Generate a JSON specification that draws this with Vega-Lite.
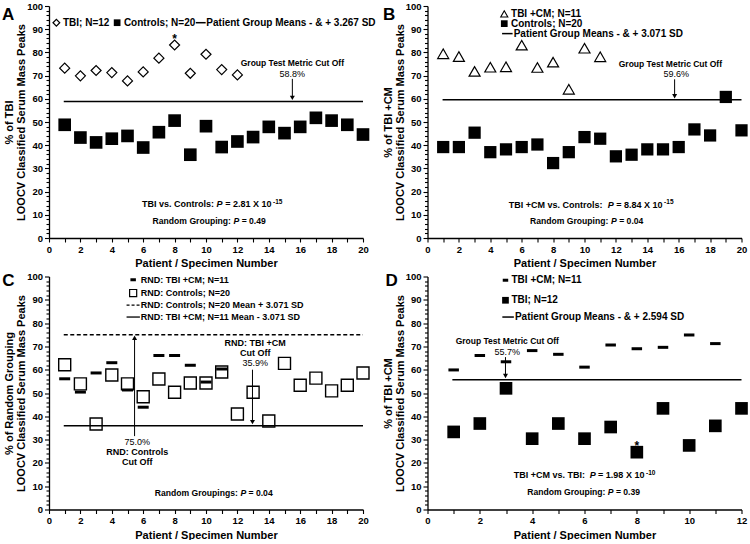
{
  "$schema": "https://vega.github.io/schema/vega-lite/v6.json",
  "padding": {"left": 2, "top": 1, "right": 0, "bottom": 0},
  "autosize": {"type": "pad"},
  "config": {
    "font": "Liberation Sans",
    "view": {"stroke": null},
    "mark": {"color": "black"},
    "text": {"font": "Liberation Sans", "fontWeight": "bold", "fontSize": 10, "baseline": "middle"},
    "axis": {
      "labelFont": "Liberation Sans", "labelFontWeight": "bold", "labelFontSize": 9.5, "labelColor": "black",
      "titleFont": "Liberation Sans", "titleFontWeight": "bold", "titleFontSize": 11, "titleColor": "black",
      "domainColor": "black", "domainWidth": 1.3, "tickColor": "black", "tickWidth": 1.1, "grid": false,
      "labelPadding": 2, "labelOverlap": false, "labelFlush": false
    }
  },
  "datasets": {
    "A": [
      {"patient": 1, "pct": 73.2, "group": "TBI"}, {"patient": 2, "pct": 69.9, "group": "TBI"}, {"patient": 3, "pct": 72.2, "group": "TBI"},
      {"patient": 4, "pct": 71.3, "group": "TBI"}, {"patient": 5, "pct": 67.7, "group": "TBI"}, {"patient": 6, "pct": 71.6, "group": "TBI"},
      {"patient": 7, "pct": 77.5, "group": "TBI"}, {"patient": 8, "pct": 83.2, "group": "TBI"}, {"patient": 9, "pct": 71.0, "group": "TBI"},
      {"patient": 10, "pct": 79.2, "group": "TBI"}, {"patient": 11, "pct": 72.6, "group": "TBI"}, {"patient": 12, "pct": 70.3, "group": "TBI"},
      {"patient": 1, "pct": 48.8, "group": "Controls"}, {"patient": 2, "pct": 43.3, "group": "Controls"}, {"patient": 3, "pct": 41.2, "group": "Controls"},
      {"patient": 4, "pct": 42.8, "group": "Controls"}, {"patient": 5, "pct": 44.0, "group": "Controls"}, {"patient": 6, "pct": 39.0, "group": "Controls"},
      {"patient": 7, "pct": 45.6, "group": "Controls"}, {"patient": 8, "pct": 50.6, "group": "Controls"}, {"patient": 9, "pct": 35.9, "group": "Controls"},
      {"patient": 10, "pct": 48.2, "group": "Controls"}, {"patient": 11, "pct": 39.2, "group": "Controls"}, {"patient": 12, "pct": 41.6, "group": "Controls"},
      {"patient": 13, "pct": 43.5, "group": "Controls"}, {"patient": 14, "pct": 47.9, "group": "Controls"}, {"patient": 15, "pct": 45.2, "group": "Controls"},
      {"patient": 16, "pct": 47.9, "group": "Controls"}, {"patient": 17, "pct": 51.8, "group": "Controls"}, {"patient": 18, "pct": 50.6, "group": "Controls"},
      {"patient": 19, "pct": 48.8, "group": "Controls"}, {"patient": 20, "pct": 44.6, "group": "Controls"}
    ],
    "B": [
      {"patient": 1, "pct": 79.4, "group": "TBI +CM"}, {"patient": 2, "pct": 78.2, "group": "TBI +CM"}, {"patient": 3, "pct": 71.8, "group": "TBI +CM"},
      {"patient": 4, "pct": 73.6, "group": "TBI +CM"}, {"patient": 5, "pct": 73.8, "group": "TBI +CM"}, {"patient": 6, "pct": 83.1, "group": "TBI +CM"},
      {"patient": 7, "pct": 73.5, "group": "TBI +CM"}, {"patient": 8, "pct": 75.8, "group": "TBI +CM"}, {"patient": 9, "pct": 64.1, "group": "TBI +CM"},
      {"patient": 10, "pct": 81.8, "group": "TBI +CM"}, {"patient": 11, "pct": 78.1, "group": "TBI +CM"},
      {"patient": 1, "pct": 39.2, "group": "Controls"}, {"patient": 2, "pct": 39.2, "group": "Controls"}, {"patient": 3, "pct": 45.4, "group": "Controls"},
      {"patient": 4, "pct": 37.0, "group": "Controls"}, {"patient": 5, "pct": 38.2, "group": "Controls"}, {"patient": 6, "pct": 39.2, "group": "Controls"},
      {"patient": 7, "pct": 40.3, "group": "Controls"}, {"patient": 8, "pct": 32.3, "group": "Controls"}, {"patient": 9, "pct": 37.0, "group": "Controls"},
      {"patient": 10, "pct": 43.5, "group": "Controls"}, {"patient": 11, "pct": 42.8, "group": "Controls"}, {"patient": 12, "pct": 35.2, "group": "Controls"},
      {"patient": 13, "pct": 35.9, "group": "Controls"}, {"patient": 14, "pct": 38.2, "group": "Controls"}, {"patient": 15, "pct": 38.2, "group": "Controls"},
      {"patient": 16, "pct": 39.2, "group": "Controls"}, {"patient": 17, "pct": 46.8, "group": "Controls"}, {"patient": 18, "pct": 44.2, "group": "Controls"},
      {"patient": 19, "pct": 60.8, "group": "Controls"}, {"patient": 20, "pct": 46.4, "group": "Controls"}
    ],
    "C": [
      {"patient": 1, "pct": 56.1, "group": "RND: TBI +CM"}, {"patient": 2, "pct": 50.4, "group": "RND: TBI +CM"}, {"patient": 3, "pct": 58.6, "group": "RND: TBI +CM"},
      {"patient": 4, "pct": 63.0, "group": "RND: TBI +CM"}, {"patient": 5, "pct": 51.3, "group": "RND: TBI +CM"}, {"patient": 6, "pct": 43.9, "group": "RND: TBI +CM"},
      {"patient": 7, "pct": 66.1, "group": "RND: TBI +CM"}, {"patient": 8, "pct": 66.1, "group": "RND: TBI +CM"}, {"patient": 9, "pct": 61.9, "group": "RND: TBI +CM"},
      {"patient": 10, "pct": 54.7, "group": "RND: TBI +CM"}, {"patient": 11, "pct": 60.3, "group": "RND: TBI +CM"},
      {"patient": 1, "pct": 62.1, "group": "RND: Controls"}, {"patient": 2, "pct": 53.9, "group": "RND: Controls"}, {"patient": 3, "pct": 36.7, "group": "RND: Controls"},
      {"patient": 4, "pct": 57.7, "group": "RND: Controls"}, {"patient": 5, "pct": 53.9, "group": "RND: Controls"}, {"patient": 6, "pct": 48.4, "group": "RND: Controls"},
      {"patient": 7, "pct": 56.0, "group": "RND: Controls"}, {"patient": 8, "pct": 50.3, "group": "RND: Controls"}, {"patient": 9, "pct": 54.3, "group": "RND: Controls"},
      {"patient": 10, "pct": 54.3, "group": "RND: Controls"}, {"patient": 11, "pct": 59.0, "group": "RND: Controls"}, {"patient": 12, "pct": 41.0, "group": "RND: Controls"},
      {"patient": 13, "pct": 50.3, "group": "RND: Controls"}, {"patient": 14, "pct": 38.0, "group": "RND: Controls"}, {"patient": 15, "pct": 62.7, "group": "RND: Controls"},
      {"patient": 16, "pct": 53.3, "group": "RND: Controls"}, {"patient": 17, "pct": 56.4, "group": "RND: Controls"}, {"patient": 18, "pct": 50.9, "group": "RND: Controls"},
      {"patient": 19, "pct": 53.3, "group": "RND: Controls"}, {"patient": 20, "pct": 58.6, "group": "RND: Controls"}
    ],
    "D": [
      {"patient": 1, "pct": 59.9, "group": "TBI +CM"}, {"patient": 2, "pct": 66.1, "group": "TBI +CM"}, {"patient": 3, "pct": 63.4, "group": "TBI +CM"},
      {"patient": 4, "pct": 68.2, "group": "TBI +CM"}, {"patient": 5, "pct": 66.6, "group": "TBI +CM"}, {"patient": 6, "pct": 61.1, "group": "TBI +CM"},
      {"patient": 7, "pct": 70.6, "group": "TBI +CM"}, {"patient": 8, "pct": 69.0, "group": "TBI +CM"}, {"patient": 9, "pct": 69.6, "group": "TBI +CM"},
      {"patient": 10, "pct": 74.9, "group": "TBI +CM"}, {"patient": 11, "pct": 71.2, "group": "TBI +CM"},
      {"patient": 1, "pct": 33.3, "group": "TBI"}, {"patient": 2, "pct": 36.9, "group": "TBI"}, {"patient": 3, "pct": 52.0, "group": "TBI"},
      {"patient": 4, "pct": 30.4, "group": "TBI"}, {"patient": 5, "pct": 36.9, "group": "TBI"}, {"patient": 6, "pct": 30.4, "group": "TBI"},
      {"patient": 7, "pct": 35.4, "group": "TBI"}, {"patient": 8, "pct": 24.6, "group": "TBI"}, {"patient": 9, "pct": 43.4, "group": "TBI"},
      {"patient": 10, "pct": 27.5, "group": "TBI"}, {"patient": 11, "pct": 35.9, "group": "TBI"}, {"patient": 12, "pct": 43.4, "group": "TBI"}
    ]
  },
  "bounds": "flush",
  "columns": 2,
  "spacing": {"row": 38.5, "column": 64.5},
  "concat": [
        {
          "width": 314, "height": 232,
          "data": {"values": [{}]},
          "resolve": {"axis": {"x": "independent", "y": "independent"}},
          "layer": [
            {
              "data": {"name": "A"},
              "transform": [{"filter": "datum.group === 'TBI'"}],
              "mark": {"type": "point", "shape": "diamond", "filled": false, "size": 100, "strokeWidth": 1.2, "opacity": 1, "color": "black"},
              "encoding": {
                "x": {"field": "patient", "type": "quantitative", "scale": {"domain": [0, 20], "nice": false},
                  "axis": {"title": "Patient / Specimen Number", "values": [0,1,2,3,4,5,6,7,8,9,10,11,12,13,14,15,16,17,18,19,20], "labelExpr": "datum.value % 2 === 0 ? datum.label : ''", "tickSize": 4}},
                "y": {"field": "pct", "type": "quantitative", "scale": {"domain": [0, 100], "nice": false},
                  "axis": {"title": ["% of TBI", "LOOCV Classified Serum Mass Peaks"], "titleLineHeight": 12, "titlePadding": 0,
                    "values": [0,2,4,6,8,10,12,14,16,18,20,22,24,26,28,30,32,34,36,38,40,42,44,46,48,50,52,54,56,58,60,62,64,66,68,70,72,74,76,78,80,82,84,86,88,90,92,94,96,98,100],
                    "labelExpr": "datum.value % 10 === 0 ? datum.label : ''",
                    "tickSize": {"condition": {"test": "datum.value % 10 === 0", "value": 4.5}, "value": 3}}}
              }
            },
            {
              "data": {"name": "A"},
              "transform": [{"filter": "datum.group === 'Controls'"}],
              "mark": {"type": "point", "shape": "square", "filled": true, "size": 160, "opacity": 1, "color": "black"},
              "encoding": {"x": {"field": "patient", "type": "quantitative", "axis": null}, "y": {"field": "pct", "type": "quantitative", "axis": null}}
            },
            {"mark": {"type": "rule", "strokeWidth": 1.5}, "encoding": {"x": {"datum": 0.94, "axis": null}, "x2": {"datum": 20}, "y": {"datum": 58.8, "axis": null}}},
            {"mark": {"type": "rule", "strokeWidth": 1}, "encoding": {"x": {"datum": 15.5, "axis": null}, "y": {"datum": 68.6, "axis": null}, "y2": {"datum": 60.4}}},
            {"mark": {"type": "point", "shape": "triangle-down", "filled": true, "size": 25, "opacity": 1}, "encoding": {"x": {"datum": 15.5, "axis": null}, "y": {"datum": 60.4, "axis": null}}},
            {"mark": {"type": "text", "text": "A", "align": "center", "fontSize": 17}, "encoding": {"x": {"datum": -2.6, "axis": null}, "y": {"datum": 96.3, "axis": null}}},
            {"mark": {"type": "point", "shape": "diamond", "filled": false, "size": 45, "strokeWidth": 1.2, "opacity": 1}, "encoding": {"x": {"datum": 0.47, "axis": null}, "y": {"datum": 92.8, "axis": null}}},
            {"mark": {"type": "text", "text": "TBI; N=12", "align": "left", "fontSize": 10}, "encoding": {"x": {"datum": 0.89, "axis": null}, "y": {"datum": 92.8, "axis": null}}},
            {"mark": {"type": "point", "shape": "square", "filled": true, "size": 45, "opacity": 1}, "encoding": {"x": {"datum": 4.34, "axis": null}, "y": {"datum": 92.8, "axis": null}}},
            {"mark": {"type": "text", "text": "Controls; N=20", "align": "left", "fontSize": 10}, "encoding": {"x": {"datum": 4.77, "axis": null}, "y": {"datum": 92.8, "axis": null}}},
            {"mark": {"type": "rule", "strokeWidth": 1.5}, "encoding": {"x": {"datum": 9.35, "axis": null}, "x2": {"datum": 9.98}, "y": {"datum": 92.8, "axis": null}}},
            {"mark": {"type": "text", "text": "Patient Group Means - & + 3.267 SD", "align": "left", "fontSize": 10}, "encoding": {"x": {"datum": 10.02, "axis": null}, "y": {"datum": 92.8, "axis": null}}},
            {"mark": {"type": "text", "text": "Group Test Metric Cut Off", "align": "center", "fontSize": 8.5}, "encoding": {"x": {"datum": 15.5, "axis": null}, "y": {"datum": 75.3, "axis": null}}},
            {"mark": {"type": "text", "text": "58.8%", "align": "center", "fontSize": 9, "fontWeight": "normal"}, "encoding": {"x": {"datum": 15.5, "axis": null}, "y": {"datum": 70.7, "axis": null}}},
            {"mark": {"type": "text", "text": "*", "align": "center", "fontSize": 12}, "encoding": {"x": {"datum": 8, "axis": null}, "y": {"datum": 85.7, "axis": null}}},
            {"mark": {"type": "text", "text": "TBI vs. Controls:", "align": "left", "fontSize": 9}, "encoding": {"x": {"datum": 5.93, "axis": null}, "y": {"datum": 14.5, "axis": null}}},
            {"mark": {"type": "text", "text": "P", "align": "left", "fontSize": 9, "fontStyle": "italic"}, "encoding": {"x": {"datum": 10.67, "axis": null}, "y": {"datum": 14.5, "axis": null}}},
            {"mark": {"type": "text", "text": "= 2.81 X 10", "align": "left", "fontSize": 9}, "encoding": {"x": {"datum": 11.22, "axis": null}, "y": {"datum": 14.5, "axis": null}}},
            {"mark": {"type": "text", "text": "-15", "align": "left", "fontSize": 6.5}, "encoding": {"x": {"datum": 14.27, "axis": null}, "y": {"datum": 15.7, "axis": null}}},
            {"mark": {"type": "text", "text": "Random Grouping:", "align": "left", "fontSize": 8.6}, "encoding": {"x": {"datum": 6.6, "axis": null}, "y": {"datum": 7.2, "axis": null}}},
            {"mark": {"type": "text", "text": "P", "align": "left", "fontSize": 8.6, "fontStyle": "italic"}, "encoding": {"x": {"datum": 11.75, "axis": null}, "y": {"datum": 7.2, "axis": null}}},
            {"mark": {"type": "text", "text": "= 0.49", "align": "left", "fontSize": 8.6}, "encoding": {"x": {"datum": 12.27, "axis": null}, "y": {"datum": 7.2, "axis": null}}}
          ]
        },
        {
          "width": 314, "height": 232,
          "data": {"values": [{}]},
          "resolve": {"axis": {"x": "independent", "y": "independent"}},
          "layer": [
            {
              "data": {"name": "B"},
              "transform": [{"filter": "datum.group === 'TBI +CM'"}],
              "mark": {"type": "point", "shape": "triangle-up", "filled": false, "size": 121, "strokeWidth": 1.2, "opacity": 1, "color": "black"},
              "encoding": {
                "x": {"field": "patient", "type": "quantitative", "scale": {"domain": [0, 20], "nice": false},
                  "axis": {"title": "Patient / Specimen Number", "values": [0,1,2,3,4,5,6,7,8,9,10,11,12,13,14,15,16,17,18,19,20], "labelExpr": "datum.value % 2 === 0 ? datum.label : ''", "tickSize": 4}},
                "y": {"field": "pct", "type": "quantitative", "scale": {"domain": [0, 100], "nice": false},
                  "axis": {"title": ["% of TBI +CM", "LOOCV Classified Serum Mass Peaks"], "titleLineHeight": 12, "titlePadding": 0,
                    "values": [0,2,4,6,8,10,12,14,16,18,20,22,24,26,28,30,32,34,36,38,40,42,44,46,48,50,52,54,56,58,60,62,64,66,68,70,72,74,76,78,80,82,84,86,88,90,92,94,96,98,100],
                    "labelExpr": "datum.value % 10 === 0 ? datum.label : ''",
                    "tickSize": {"condition": {"test": "datum.value % 10 === 0", "value": 4.5}, "value": 3}}}
              }
            },
            {
              "data": {"name": "B"},
              "transform": [{"filter": "datum.group === 'Controls'"}],
              "mark": {"type": "point", "shape": "square", "filled": true, "size": 150, "opacity": 1, "color": "black"},
              "encoding": {"x": {"field": "patient", "type": "quantitative", "axis": null}, "y": {"field": "pct", "type": "quantitative", "axis": null}}
            },
            {"mark": {"type": "rule", "strokeWidth": 1.5}, "encoding": {"x": {"datum": 0.96, "axis": null}, "x2": {"datum": 20}, "y": {"datum": 59.6, "axis": null}}},
            {"mark": {"type": "rule", "strokeWidth": 1}, "encoding": {"x": {"datum": 15.74, "axis": null}, "y": {"datum": 68.4, "axis": null}, "y2": {"datum": 61.1}}},
            {"mark": {"type": "point", "shape": "triangle-down", "filled": true, "size": 25, "opacity": 1}, "encoding": {"x": {"datum": 15.74, "axis": null}, "y": {"datum": 61.1, "axis": null}}},
            {"mark": {"type": "text", "text": "B", "align": "center", "fontSize": 17}, "encoding": {"x": {"datum": -2.44, "axis": null}, "y": {"datum": 96.3, "axis": null}}},
            {"mark": {"type": "point", "shape": "triangle-up", "filled": false, "size": 50, "strokeWidth": 1.1, "opacity": 1}, "encoding": {"x": {"datum": 4.89, "axis": null}, "y": {"datum": 96.6, "axis": null}}},
            {"mark": {"type": "text", "text": "TBI +CM; N=11", "align": "left", "fontSize": 10}, "encoding": {"x": {"datum": 5.32, "axis": null}, "y": {"datum": 96.6, "axis": null}}},
            {"mark": {"type": "point", "shape": "square", "filled": true, "size": 45, "opacity": 1}, "encoding": {"x": {"datum": 4.89, "axis": null}, "y": {"datum": 92.4, "axis": null}}},
            {"mark": {"type": "text", "text": "Controls; N=20", "align": "left", "fontSize": 10}, "encoding": {"x": {"datum": 5.32, "axis": null}, "y": {"datum": 92.4, "axis": null}}},
            {"mark": {"type": "rule", "strokeWidth": 1.5}, "encoding": {"x": {"datum": 4.75, "axis": null}, "x2": {"datum": 5.42}, "y": {"datum": 88.1, "axis": null}}},
            {"mark": {"type": "text", "text": "Patient Group Means - & + 3.071 SD", "align": "left", "fontSize": 10}, "encoding": {"x": {"datum": 5.49, "axis": null}, "y": {"datum": 88.1, "axis": null}}},
            {"mark": {"type": "text", "text": "Group Test Metric Cut Off", "align": "center", "fontSize": 8.5}, "encoding": {"x": {"datum": 15.47, "axis": null}, "y": {"datum": 75.2, "axis": null}}},
            {"mark": {"type": "text", "text": "59.6%", "align": "center", "fontSize": 9, "fontWeight": "normal"}, "encoding": {"x": {"datum": 15.85, "axis": null}, "y": {"datum": 70.6, "axis": null}}},
            {"mark": {"type": "text", "text": "TBI +CM vs. Controls:", "align": "left", "fontSize": 9}, "encoding": {"x": {"datum": 5.18, "axis": null}, "y": {"datum": 14.4, "axis": null}}},
            {"mark": {"type": "text", "text": "P", "align": "left", "fontSize": 9, "fontStyle": "italic"}, "encoding": {"x": {"datum": 11.48, "axis": null}, "y": {"datum": 14.4, "axis": null}}},
            {"mark": {"type": "text", "text": "= 8.84 X 10", "align": "left", "fontSize": 9}, "encoding": {"x": {"datum": 12.02, "axis": null}, "y": {"datum": 14.4, "axis": null}}},
            {"mark": {"type": "text", "text": "-15", "align": "left", "fontSize": 6.5}, "encoding": {"x": {"datum": 15.07, "axis": null}, "y": {"datum": 15.6, "axis": null}}},
            {"mark": {"type": "text", "text": "Random Grouping:", "align": "left", "fontSize": 8.6}, "encoding": {"x": {"datum": 6.53, "axis": null}, "y": {"datum": 7.2, "axis": null}}},
            {"mark": {"type": "text", "text": "P", "align": "left", "fontSize": 8.6, "fontStyle": "italic"}, "encoding": {"x": {"datum": 11.69, "axis": null}, "y": {"datum": 7.2, "axis": null}}},
            {"mark": {"type": "text", "text": "= 0.04", "align": "left", "fontSize": 8.6}, "encoding": {"x": {"datum": 12.21, "axis": null}, "y": {"datum": 7.2, "axis": null}}}
          ]
        },
        {
          "width": 314, "height": 233,
          "data": {"values": [{}]},
          "resolve": {"axis": {"x": "independent", "y": "independent"}},
          "layer": [
            {
              "data": {"name": "C"},
              "transform": [{"filter": "datum.group === 'RND: Controls'"}],
              "mark": {"type": "point", "shape": "square", "filled": false, "size": 144, "strokeWidth": 1.4, "opacity": 1, "color": "black"},
              "encoding": {
                "x": {"field": "patient", "type": "quantitative", "scale": {"domain": [0, 20], "nice": false},
                  "axis": {"title": "Patient / Specimen Number", "values": [0,1,2,3,4,5,6,7,8,9,10,11,12,13,14,15,16,17,18,19,20], "labelExpr": "datum.value % 2 === 0 ? datum.label : ''", "tickSize": 4}},
                "y": {"field": "pct", "type": "quantitative", "scale": {"domain": [0, 100], "nice": false},
                  "axis": {"title": ["% of Random Grouping", "LOOCV Classified Serum Mass Peaks"], "titleLineHeight": 12, "titlePadding": 0,
                    "values": [0,2,4,6,8,10,12,14,16,18,20,22,24,26,28,30,32,34,36,38,40,42,44,46,48,50,52,54,56,58,60,62,64,66,68,70,72,74,76,78,80,82,84,86,88,90,92,94,96,98,100],
                    "labelExpr": "datum.value % 10 === 0 ? datum.label : ''",
                    "tickSize": {"condition": {"test": "datum.value % 10 === 0", "value": 4.5}, "value": 3}}}
              }
            },
            {
              "data": {"name": "C"},
              "transform": [{"filter": "datum.group === 'RND: TBI +CM'"}],
              "mark": {"type": "point", "shape": "stroke", "filled": false, "size": 121, "strokeWidth": 3, "opacity": 1, "color": "black"},
              "encoding": {"x": {"field": "patient", "type": "quantitative", "axis": null}, "y": {"field": "pct", "type": "quantitative", "axis": null}}
            },
            {"mark": {"type": "rule", "strokeWidth": 1.3, "strokeDash": [4, 2.5]}, "encoding": {"x": {"datum": 0.94, "axis": null}, "x2": {"datum": 20}, "y": {"datum": 75.0, "axis": null}}},
            {"mark": {"type": "rule", "strokeWidth": 1.5}, "encoding": {"x": {"datum": 0.94, "axis": null}, "x2": {"datum": 20}, "y": {"datum": 35.9, "axis": null}}},
            {"mark": {"type": "rule", "strokeWidth": 1}, "encoding": {"x": {"datum": 5.45, "axis": null}, "y": {"datum": 31.5, "axis": null}, "y2": {"datum": 73.7}}},
            {"mark": {"type": "point", "shape": "triangle-up", "filled": true, "size": 25, "opacity": 1}, "encoding": {"x": {"datum": 5.45, "axis": null}, "y": {"datum": 73.7, "axis": null}}},
            {"mark": {"type": "rule", "strokeWidth": 1}, "encoding": {"x": {"datum": 12.96, "axis": null}, "y": {"datum": 60.0, "axis": null}, "y2": {"datum": 37.5}}},
            {"mark": {"type": "point", "shape": "triangle-down", "filled": true, "size": 25, "opacity": 1}, "encoding": {"x": {"datum": 12.96, "axis": null}, "y": {"datum": 37.5, "axis": null}}},
            {"mark": {"type": "text", "text": "C", "align": "center", "fontSize": 17}, "encoding": {"x": {"datum": -2.58, "axis": null}, "y": {"datum": 97.9, "axis": null}}},
            {"mark": {"type": "point", "shape": "stroke", "filled": false, "size": 30, "strokeWidth": 3, "opacity": 1}, "encoding": {"x": {"datum": 5.36, "axis": null}, "y": {"datum": 98.6, "axis": null}}},
            {"mark": {"type": "text", "text": "RND: TBI +CM; N=11", "align": "left", "fontSize": 9}, "encoding": {"x": {"datum": 5.85, "axis": null}, "y": {"datum": 98.6, "axis": null}}},
            {"mark": {"type": "point", "shape": "square", "filled": false, "size": 50, "strokeWidth": 1.2, "opacity": 1}, "encoding": {"x": {"datum": 5.36, "axis": null}, "y": {"datum": 92.9, "axis": null}}},
            {"mark": {"type": "text", "text": "RND: Controls; N=20", "align": "left", "fontSize": 9}, "encoding": {"x": {"datum": 5.85, "axis": null}, "y": {"datum": 92.9, "axis": null}}},
            {"mark": {"type": "rule", "strokeWidth": 1.3, "strokeDash": [3, 2]}, "encoding": {"x": {"datum": 4.94, "axis": null}, "x2": {"datum": 5.79}, "y": {"datum": 87.7, "axis": null}}},
            {"mark": {"type": "text", "text": "RND: Controls; N=20 Mean + 3.071 SD", "align": "left", "fontSize": 9}, "encoding": {"x": {"datum": 5.85, "axis": null}, "y": {"datum": 87.7, "axis": null}}},
            {"mark": {"type": "rule", "strokeWidth": 1.3}, "encoding": {"x": {"datum": 4.94, "axis": null}, "x2": {"datum": 5.79}, "y": {"datum": 82.6, "axis": null}}},
            {"mark": {"type": "text", "text": "RND: TBI +CM; N=11 Mean - 3.071 SD", "align": "left", "fontSize": 9}, "encoding": {"x": {"datum": 5.85, "axis": null}, "y": {"datum": 82.6, "axis": null}}},
            {"mark": {"type": "text", "text": "75.0%", "align": "center", "fontSize": 9, "fontWeight": "normal"}, "encoding": {"x": {"datum": 5.62, "axis": null}, "y": {"datum": 28.9, "axis": null}}},
            {"mark": {"type": "text", "text": "RND: Controls", "align": "center", "fontSize": 9}, "encoding": {"x": {"datum": 5.62, "axis": null}, "y": {"datum": 24.6, "axis": null}}},
            {"mark": {"type": "text", "text": "Cut Off", "align": "center", "fontSize": 9}, "encoding": {"x": {"datum": 5.62, "axis": null}, "y": {"datum": 20.3, "axis": null}}},
            {"mark": {"type": "text", "text": "RND: TBI +CM", "align": "center", "fontSize": 9}, "encoding": {"x": {"datum": 13.13, "axis": null}, "y": {"datum": 71.4, "axis": null}}},
            {"mark": {"type": "text", "text": "Cut Off", "align": "center", "fontSize": 9}, "encoding": {"x": {"datum": 13.13, "axis": null}, "y": {"datum": 67.1, "axis": null}}},
            {"mark": {"type": "text", "text": "35.9%", "align": "center", "fontSize": 9, "fontWeight": "normal"}, "encoding": {"x": {"datum": 13.13, "axis": null}, "y": {"datum": 62.9, "axis": null}}},
            {"mark": {"type": "text", "text": "Random Groupings:", "align": "left", "fontSize": 8.6}, "encoding": {"x": {"datum": 6.74, "axis": null}, "y": {"datum": 6.9, "axis": null}}},
            {"mark": {"type": "text", "text": "P", "align": "left", "fontSize": 8.6, "fontStyle": "italic"}, "encoding": {"x": {"datum": 12.19, "axis": null}, "y": {"datum": 6.9, "axis": null}}},
            {"mark": {"type": "text", "text": "= 0.04", "align": "left", "fontSize": 8.6}, "encoding": {"x": {"datum": 12.71, "axis": null}, "y": {"datum": 6.9, "axis": null}}}
          ]
        },
        {
          "width": 314, "height": 233,
          "data": {"values": [{}]},
          "resolve": {"axis": {"x": "independent", "y": "independent"}},
          "layer": [
            {
              "data": {"name": "D"},
              "transform": [{"filter": "datum.group === 'TBI'"}],
              "mark": {"type": "point", "shape": "square", "filled": true, "size": 160, "opacity": 1, "color": "black"},
              "encoding": {
                "x": {"field": "patient", "type": "quantitative", "scale": {"domain": [0, 12], "nice": false},
                  "axis": {"title": "Patient / Specimen Number", "values": [0,1,2,3,4,5,6,7,8,9,10,11,12], "labelExpr": "datum.value % 2 === 0 ? datum.label : ''", "tickSize": 4}},
                "y": {"field": "pct", "type": "quantitative", "scale": {"domain": [0, 100], "nice": false},
                  "axis": {"title": ["% of TBI +CM", "LOOCV Classified Serum Mass Peaks"], "titleLineHeight": 12, "titlePadding": 0,
                    "values": [0,2,4,6,8,10,12,14,16,18,20,22,24,26,28,30,32,34,36,38,40,42,44,46,48,50,52,54,56,58,60,62,64,66,68,70,72,74,76,78,80,82,84,86,88,90,92,94,96,98,100],
                    "labelExpr": "datum.value % 10 === 0 ? datum.label : ''",
                    "tickSize": {"condition": {"test": "datum.value % 10 === 0", "value": 4.5}, "value": 3}}}
              }
            },
            {
              "data": {"name": "D"},
              "transform": [{"filter": "datum.group === 'TBI +CM'"}],
              "mark": {"type": "point", "shape": "stroke", "filled": false, "size": 110, "strokeWidth": 3, "opacity": 1, "color": "black"},
              "encoding": {"x": {"field": "patient", "type": "quantitative", "axis": null}, "y": {"field": "pct", "type": "quantitative", "axis": null}}
            },
            {"mark": {"type": "rule", "strokeWidth": 1.5}, "encoding": {"x": {"datum": 0.95, "axis": null}, "x2": {"datum": 12}, "y": {"datum": 55.7, "axis": null}}},
            {"mark": {"type": "rule", "strokeWidth": 1}, "encoding": {"x": {"datum": 2.98, "axis": null}, "y": {"datum": 65.4, "axis": null}, "y2": {"datum": 57.3}}},
            {"mark": {"type": "point", "shape": "triangle-down", "filled": true, "size": 25, "opacity": 1}, "encoding": {"x": {"datum": 2.98, "axis": null}, "y": {"datum": 57.3, "axis": null}}},
            {"mark": {"type": "text", "text": "D", "align": "center", "fontSize": 17}, "encoding": {"x": {"datum": -1.37, "axis": null}, "y": {"datum": 98.1, "axis": null}}},
            {"mark": {"type": "point", "shape": "stroke", "filled": false, "size": 30, "strokeWidth": 3, "opacity": 1}, "encoding": {"x": {"datum": 2.98, "axis": null}, "y": {"datum": 98.4, "axis": null}}},
            {"mark": {"type": "text", "text": "TBI +CM; N=11", "align": "left", "fontSize": 10}, "encoding": {"x": {"datum": 3.21, "axis": null}, "y": {"datum": 98.4, "axis": null}}},
            {"mark": {"type": "point", "shape": "square", "filled": true, "size": 45, "opacity": 1}, "encoding": {"x": {"datum": 2.98, "axis": null}, "y": {"datum": 89.8, "axis": null}}},
            {"mark": {"type": "text", "text": "TBI; N=12", "align": "left", "fontSize": 10}, "encoding": {"x": {"datum": 3.21, "axis": null}, "y": {"datum": 89.8, "axis": null}}},
            {"mark": {"type": "rule", "strokeWidth": 1.5}, "encoding": {"x": {"datum": 2.86, "axis": null}, "x2": {"datum": 3.3}, "y": {"datum": 82.6, "axis": null}}},
            {"mark": {"type": "text", "text": "Patient Group Means - & + 2.594 SD", "align": "left", "fontSize": 10}, "encoding": {"x": {"datum": 3.34, "axis": null}, "y": {"datum": 82.6, "axis": null}}},
            {"mark": {"type": "text", "text": "Group Test Metric Cut Off", "align": "center", "fontSize": 8.5}, "encoding": {"x": {"datum": 3.05, "axis": null}, "y": {"datum": 72.2, "axis": null}}},
            {"mark": {"type": "text", "text": "55.7%", "align": "center", "fontSize": 9, "fontWeight": "normal"}, "encoding": {"x": {"datum": 3.05, "axis": null}, "y": {"datum": 67.7, "axis": null}}},
            {"mark": {"type": "text", "text": "*", "align": "center", "fontSize": 12}, "encoding": {"x": {"datum": 8, "axis": null}, "y": {"datum": 27.4, "axis": null}}},
            {"mark": {"type": "text", "text": "TBI +CM vs. TBI:", "align": "left", "fontSize": 9}, "encoding": {"x": {"datum": 3.3, "axis": null}, "y": {"datum": 14.6, "axis": null}}},
            {"mark": {"type": "text", "text": "P", "align": "left", "fontSize": 9, "fontStyle": "italic"}, "encoding": {"x": {"datum": 6.2, "axis": null}, "y": {"datum": 14.6, "axis": null}}},
            {"mark": {"type": "text", "text": "= 1.98 X 10", "align": "left", "fontSize": 9}, "encoding": {"x": {"datum": 6.52, "axis": null}, "y": {"datum": 14.6, "axis": null}}},
            {"mark": {"type": "text", "text": "-10", "align": "left", "fontSize": 6.5}, "encoding": {"x": {"datum": 8.35, "axis": null}, "y": {"datum": 15.8, "axis": null}}},
            {"mark": {"type": "text", "text": "Random Grouping:", "align": "left", "fontSize": 8.6}, "encoding": {"x": {"datum": 3.81, "axis": null}, "y": {"datum": 7.3, "axis": null}}},
            {"mark": {"type": "text", "text": "P", "align": "left", "fontSize": 8.6, "fontStyle": "italic"}, "encoding": {"x": {"datum": 6.89, "axis": null}, "y": {"datum": 7.3, "axis": null}}},
            {"mark": {"type": "text", "text": "= 0.39", "align": "left", "fontSize": 8.6}, "encoding": {"x": {"datum": 7.2, "axis": null}, "y": {"datum": 7.3, "axis": null}}}
          ]
        }
  ]
}
